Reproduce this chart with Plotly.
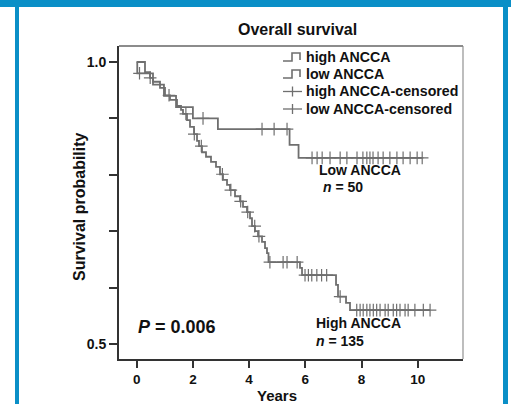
import numpy as np
import plotly.graph_objects as go

# ---------------- data ----------------
high_t = [0.0, 0.295, 0.473, 0.580, 0.829, 1.007, 1.185, 1.434, 1.577, 1.648, 1.790, 1.897,
          2.039, 2.146, 2.217, 2.324, 2.466, 2.644, 2.822, 2.964, 3.071, 3.214, 3.320, 3.498,
          3.676, 3.783, 3.925, 4.032, 4.103, 4.210, 4.317, 4.459, 4.566, 4.637, 4.690, 5.811,
          5.883, 7.093, 7.164, 7.449, 7.591]
high_s = [1.0, 0.982, 0.972, 0.965, 0.954, 0.941, 0.933, 0.922, 0.915, 0.908, 0.897, 0.885,
          0.872, 0.860, 0.851, 0.840, 0.832, 0.823, 0.814, 0.801, 0.791, 0.782, 0.773, 0.762,
          0.753, 0.743, 0.734, 0.723, 0.709, 0.700, 0.691, 0.681, 0.670, 0.661, 0.645, 0.635,
          0.622, 0.605, 0.584, 0.573, 0.560]
high_end = 10.44
high_cens = [0.48, 1.15, 1.75, 2.05, 2.30, 3.05, 3.35, 3.70, 3.95, 4.20, 4.35, 4.74, 5.21,
             5.35, 5.71, 5.99, 6.11, 6.23, 6.41, 6.58, 6.76, 7.24, 7.83, 7.95, 8.06, 8.19,
             8.30, 8.42, 8.54, 8.66, 8.84, 8.95, 9.13, 9.25, 9.37, 9.55, 9.66, 9.90, 10.20, 10.44]

low_t = [0.0, 0.02, 0.58, 0.97, 1.40, 2.00, 2.89, 5.44, 5.76]
low_s = [1.0, 0.980, 0.960, 0.940, 0.920, 0.900, 0.881, 0.853, 0.830]
low_end = 10.16
low_cens = [0.10, 2.36, 4.46, 4.89, 5.35, 6.24, 6.42, 6.60, 6.88, 7.24, 7.48, 7.84, 8.05,
            8.19, 8.30, 8.41, 8.59, 8.77, 9.01, 9.26, 9.48, 9.73, 9.98, 10.16]

x_ticks = [0, 2, 4, 6, 8, 10]
y_ticks = [0.5, 0.6, 0.7, 0.8, 0.9, 1.0]
y_ticktext = ["0.5", "", "", "", "", "1.0"]

legend_labels = ["high ANCCA", "low ANCCA", "high ANCCA-censored", "low ANCCA-censored"]

# ---------------- helpers ----------------
W, H = 511, 404
L, R, T, B = 119, 463, 46, 359   # plot area in pixels


def pxx(x):
    return x / W


def pxy(y):
    return 1 - y / H


def level_at(ts, ss, t):
    i = np.searchsorted(np.array(ts), t, side="right") - 1
    return ss[i]


GRAY = "#6f6f6f"
DARK = "#333333"
FONT = "Liberation Sans, Arial, sans-serif"

fig = go.Figure()

for ts, ss, end in [(high_t, high_s, high_end), (low_t, low_s, low_end)]:
    fig.add_trace(go.Scatter(
        x=list(ts) + [end], y=list(ss) + [ss[-1]],
        mode="lines", line=dict(color=GRAY, width=1.8, shape="hv"),
        showlegend=False, hoverinfo="skip"))

for ts, ss, cens in [(high_t, high_s, high_cens), (low_t, low_s, low_cens)]:
    fig.add_trace(go.Scatter(
        x=cens, y=[level_at(ts, ss, c) for c in cens],
        mode="markers",
        marker=dict(symbol="cross-thin", size=9, line=dict(color=GRAY, width=1.2)),
        showlegend=False, hoverinfo="skip"))

shapes = []
# blue frame
BLUE = "#0a8fc7"
for x0, y0, x1, y1 in [(0, 0, W, 7), (15, 0, 19, H), (503, 0, 508, H)]:
    shapes.append(dict(type="rect", xref="paper", yref="paper",
                       x0=pxx(x0), x1=pxx(x1), y0=pxy(y0), y1=pxy(y1),
                       fillcolor=BLUE, line=dict(width=0), layer="above"))
# top and right borders of the box
shapes.append(dict(type="line", xref="paper", yref="paper",
                   x0=pxx(L), x1=pxx(R), y0=pxy(T), y1=pxy(T),
                   line=dict(color="#666666", width=1.3)))
shapes.append(dict(type="line", xref="paper", yref="paper",
                   x0=pxx(R), x1=pxx(R), y0=pxy(B), y1=pxy(T),
                   line=dict(color="#888888", width=1.1)))

# legend glyphs and labels
rows = [57, 74, 91.5, 109]
annotations = []
for i, (lab, cy) in enumerate(zip(legend_labels, rows)):
    if i < 2:
        path = (f"M {pxx(283)},{pxy(cy + 4)} L {pxx(292)},{pxy(cy + 4)} L {pxx(292)},{pxy(cy - 4)} "
                f"L {pxx(300)},{pxy(cy - 4)} L {pxx(300)},{pxy(cy + 3)}")
        shapes.append(dict(type="path", xref="paper", yref="paper", path=path,
                           line=dict(color=GRAY, width=1.6)))
    else:
        shapes.append(dict(type="line", xref="paper", yref="paper",
                           x0=pxx(283), x1=pxx(302), y0=pxy(cy), y1=pxy(cy),
                           line=dict(color=GRAY, width=1.3)))
        shapes.append(dict(type="line", xref="paper", yref="paper",
                           x0=pxx(292.5), x1=pxx(292.5), y0=pxy(cy - 5), y1=pxy(cy + 5),
                           line=dict(color=GRAY, width=1.3)))
    annotations.append(dict(text=f"<b>{lab}</b>", xref="paper", yref="paper",
                            x=pxx(304), y=pxy(cy), xanchor="left", yanchor="middle",
                            showarrow=False, font=dict(family=FONT, size=14.2, color="#111")))


def note(text, x, y, size, xanchor="left", angle=0):
    annotations.append(dict(text=text, xref="paper", yref="paper", x=pxx(x), y=pxy(y),
                            xanchor=xanchor, yanchor="middle", showarrow=False, textangle=angle,
                            font=dict(family=FONT, size=size, color="#111")))


note("<b>Overall survival</b>", 297, 30, 16, "center")
note("<b>Survival probability</b>", 79, 207, 16, "center", -90)
note("<b>Years</b>", 277, 395, 15, "center")
note("<b>Low ANCCA</b>", 317, 170, 14)
note("<b><i>n</i> = 50</b>", 321, 187, 14)
note("<b>High ANCCA</b>", 314, 323, 14)
note("<b><i>n</i> = 135</b>", 314, 341, 14)
note("<b><i>P</i> = 0.006</b>", 136, 327, 18)

fig.update_layout(
    width=W, height=H, autosize=False,
    margin=dict(l=0, r=0, t=0, b=0, pad=0),
    paper_bgcolor="white", plot_bgcolor="white",
    showlegend=False,
    shapes=shapes, annotations=annotations,
    font=dict(family=FONT, size=13, color="#111"),
)
fig.update_xaxes(domain=[L / W, R / W], automargin=False,
                 range=[-0.630, 11.612], tickvals=x_ticks,
                 ticktext=[f"<b>{v}</b>" for v in x_ticks],
                 tickfont=dict(family=FONT, size=13.5, color="#111"),
                 showline=True, linecolor=DARK, linewidth=2,
                 ticks="outside", ticklen=7, tickwidth=1.5, tickcolor=DARK,
                 showgrid=False, zeroline=False, fixedrange=True)
fig.update_yaxes(domain=[1 - B / H, 1 - T / H], automargin=False,
                 range=[0.4734, 1.0284], tickvals=y_ticks,
                 ticktext=[f"<b>{v}</b>" for v in y_ticktext],
                 tickfont=dict(family=FONT, size=14, color="#111"),
                 showline=True, linecolor=DARK, linewidth=2,
                 ticks="outside", ticklen=8, tickwidth=1.5, tickcolor=DARK,
                 showgrid=False, zeroline=False, fixedrange=True)

fig.write_html("out.html")
